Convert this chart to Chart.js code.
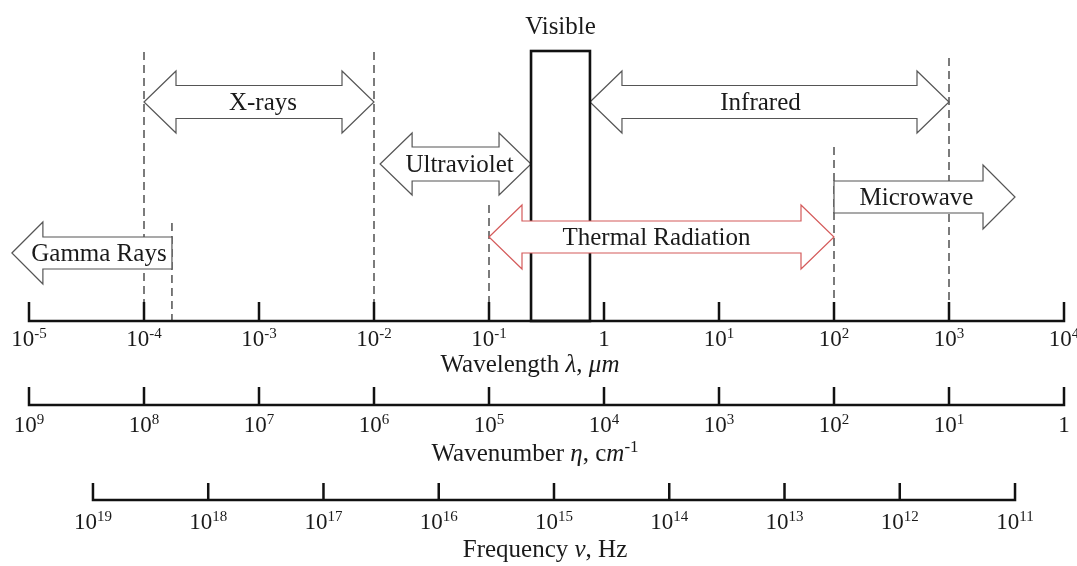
<!DOCTYPE html>
<html>
<head>
<meta charset="utf-8">
<script src="https://cdn.jsdelivr.net/npm/chart.js@4"></script>
<style>
  body { margin: 0; background: #fff; }
</style>
</head>
<body>
<canvas id="spectrum" width="1077" height="566"></canvas>
<script>
// band names and wavelength ranges (micrometres)
var bandNames = ["Gamma Rays", "X-rays", "Ultraviolet", "Visible", "Infrared", "Thermal Radiation", "Microwave"];
var bandStart = [7.1e-6, 1e-4, 0.0113, 0.232, 0.755, 0.1, 100];
var bandEnd   = [1.75e-4, 1e-2, 0.232, 0.755, 1000, 100, 3750];

// dashed boundary markers (wavelength, micrometres)
var markerLambda = [1e-4, 1.75e-4, 1e-2, 0.1, 100, 1000];

// tick exponents for the three axes
var lambdaExp = [-5, -4, -3, -2, -1, 0, 1, 2, 3, 4];
var etaExp = [9, 8, 7, 6, 5, 4, 3, 2, 1, 0];
var nuExp = [19, 18, 17, 16, 15, 14, 13, 12, 11];

var SERIF = '"Liberation Serif", "Times New Roman", serif';

// vertical layout of each band row (pixels): centre, body half height, head half height, head length, heads, colour
var rowStyle = {
  "Gamma Rays":        { y: 253, body: 16, head: 31, len: 31, left: true,  right: false, color: "#555", dx: 7 },
  "X-rays":            { y: 102, body: 16.5, head: 31, len: 32, left: true, right: true, color: "#555", dx: 4 },
  "Ultraviolet":       { y: 164, body: 17, head: 31, len: 32, left: true,  right: true,  color: "#555", dx: 4 },
  "Infrared":          { y: 102, body: 16.5, head: 31, len: 32, left: true, right: true, color: "#555", dx: -9 },
  "Thermal Radiation": { y: 237, body: 16, head: 32, len: 33, left: true,  right: true,  color: "#d45a5a", dx: -5 },
  "Microwave":         { y: 197, body: 16, head: 32, len: 32, left: false, right: true,  color: "#555", dx: -8 }
};
var markerTop = [52, 223, 52, 205, 147, 58];

function supLabel(ctx, x, y, exp, size) {
  ctx.textBaseline = "alphabetic";
  ctx.textAlign = "left";
  var base = exp === 0 ? "1" : "10";
  var sup = exp === 0 ? "" : String(exp);
  ctx.font = size + "px " + SERIF;
  var wb = ctx.measureText(base).width;
  ctx.font = Math.round(size * 0.66) + "px " + SERIF;
  var ws = ctx.measureText(sup).width;
  var x0 = x - (wb + ws) / 2;
  ctx.font = size + "px " + SERIF;
  ctx.fillText(base, x0, y);
  ctx.font = Math.round(size * 0.66) + "px " + SERIF;
  ctx.fillText(sup, x0 + wb, y - size * 0.36);
}

// draws a run of text pieces [text, italic, superscript] centred on x
function richText(ctx, x, y, parts, size) {
  ctx.textBaseline = "alphabetic";
  ctx.textAlign = "left";
  var widths = parts.map(function (p) {
    ctx.font = (p[1] ? "italic " : "") + (p[2] ? Math.round(size * 0.66) : size) + "px " + SERIF;
    return ctx.measureText(p[0]).width;
  });
  var total = widths.reduce(function (a, b) { return a + b; }, 0);
  var cx = x - total / 2;
  parts.forEach(function (p, i) {
    ctx.font = (p[1] ? "italic " : "") + (p[2] ? Math.round(size * 0.66) : size) + "px " + SERIF;
    ctx.fillText(p[0], cx, p[2] ? y - size * 0.38 : y);
    cx += widths[i];
  });
}

function arrowPath(ctx, x1, x2, yc, s) {
  ctx.beginPath();
  if (s.left) {
    ctx.moveTo(x1, yc);
    ctx.lineTo(x1 + s.len, yc - s.head);
    ctx.lineTo(x1 + s.len, yc - s.body);
  } else {
    ctx.moveTo(x1, yc - s.body);
  }
  if (s.right) {
    ctx.lineTo(x2 - s.len, yc - s.body);
    ctx.lineTo(x2 - s.len, yc - s.head);
    ctx.lineTo(x2, yc);
    ctx.lineTo(x2 - s.len, yc + s.head);
    ctx.lineTo(x2 - s.len, yc + s.body);
  } else {
    ctx.lineTo(x2, yc - s.body);
    ctx.lineTo(x2, yc + s.body);
  }
  if (s.left) {
    ctx.lineTo(x1 + s.len, yc + s.body);
    ctx.lineTo(x1 + s.len, yc + s.head);
  } else {
    ctx.lineTo(x1, yc + s.body);
  }
  ctx.closePath();
}

function drawAxis(ctx, scale, exps, yLine, yLabel, tickH) {
  var xs = exps.map(function (e) { return scale.getPixelForValue(Math.pow(10, e)); });
  ctx.strokeStyle = "#111";
  ctx.lineWidth = 2.5;
  ctx.beginPath();
  ctx.moveTo(Math.min.apply(null, xs), yLine);
  ctx.lineTo(Math.max.apply(null, xs), yLine);
  xs.forEach(function (x) {
    ctx.moveTo(x, yLine + 1.2);
    ctx.lineTo(x, yLine - tickH);
  });
  ctx.stroke();
  ctx.fillStyle = "#1a1a1a";
  exps.forEach(function (e, i) { supLabel(ctx, xs[i], yLabel, e, 23); });
}

var spectrumPlugin = {
  id: "spectrum",
  afterDraw: function (chart) {
    var ctx = chart.ctx;
    var xl = chart.scales.x;
    ctx.save();

    // dashed boundaries
    ctx.strokeStyle = "#444";
    ctx.lineWidth = 1.4;
    ctx.setLineDash([8, 5]);
    markerLambda.forEach(function (v, i) {
      var x = xl.getPixelForValue(v);
      ctx.beginPath();
      ctx.moveTo(x, markerTop[i]);
      ctx.lineTo(x, 321);
      ctx.stroke();
    });
    ctx.setLineDash([]);

    // arrows (thermal drawn after the visible box)
    function band(name) {
      var i = bandNames.indexOf(name);
      var s = rowStyle[name];
      var x1 = xl.getPixelForValue(bandStart[i]);
      var x2 = xl.getPixelForValue(bandEnd[i]);
      arrowPath(ctx, x1, x2, s.y, s);
      ctx.fillStyle = "#fff";
      ctx.fill();
      ctx.strokeStyle = s.color;
      ctx.lineWidth = 1.2;
      ctx.stroke();
      ctx.fillStyle = "#1a1a1a";
      ctx.font = "25px " + SERIF;
      ctx.textAlign = "center";
      ctx.textBaseline = "middle";
      ctx.fillText(name, (x1 + x2) / 2 + s.dx, s.y + 1);
    }
    ["Gamma Rays", "X-rays", "Ultraviolet", "Infrared", "Microwave"].forEach(band);

    // visible box
    var vi = bandNames.indexOf("Visible");
    var vx1 = xl.getPixelForValue(bandStart[vi]);
    var vx2 = xl.getPixelForValue(bandEnd[vi]);
    ctx.strokeStyle = "#111";
    ctx.lineWidth = 2.6;
    ctx.strokeRect(vx1, 51, vx2 - vx1, 270);
    ctx.fillStyle = "#1a1a1a";
    ctx.font = "25px " + SERIF;
    ctx.textAlign = "center";
    ctx.textBaseline = "middle";
    ctx.fillText("Visible", (vx1 + vx2) / 2, 27);

    band("Thermal Radiation");

    // three axes
    drawAxis(ctx, xl, lambdaExp, 321, 346, 19);
    drawAxis(ctx, chart.scales.eta, etaExp, 405, 432, 18);
    drawAxis(ctx, chart.scales.nu, nuExp, 500, 529, 17);

    ctx.fillStyle = "#1a1a1a";
    richText(ctx, 530, 372, [["Wavelength ", false], ["\u03bb", true], [", ", false], ["\u03bcm", true]], 25);
    richText(ctx, 535, 461, [["Wavenumber ", false], ["\u03b7", true], [", c", false], ["m", true], ["-1", false, true]], 25);
    richText(ctx, 545, 557, [["Frequency ", false], ["\u03bd", true], [", Hz", false]], 25);

    ctx.restore();
  }
};

var ctx = document.getElementById("spectrum");
window.myChart = new Chart(ctx, {
  type: "scatter",
  data: { datasets: [] },
  options: {
    responsive: false,
    animation: false,
    devicePixelRatio: 1,
    layout: { padding: { left: 29, right: 13, top: 0, bottom: 0 } },
    plugins: { legend: { display: false }, tooltip: { enabled: false } },
    scales: {
      x: { type: "logarithmic", min: 1e-5, max: 1e4, display: false },
      eta: { type: "logarithmic", axis: "x", reverse: true, min: 1, max: 1e9, display: false },
      nu: { type: "logarithmic", axis: "x", reverse: true, min: Math.pow(10, 10.575), max: Math.pow(10, 19.555), display: false },
      y: { type: "linear", min: 0, max: 566, display: false }
    }
  },
  plugins: [spectrumPlugin]
});
</script>
</body>
</html>
